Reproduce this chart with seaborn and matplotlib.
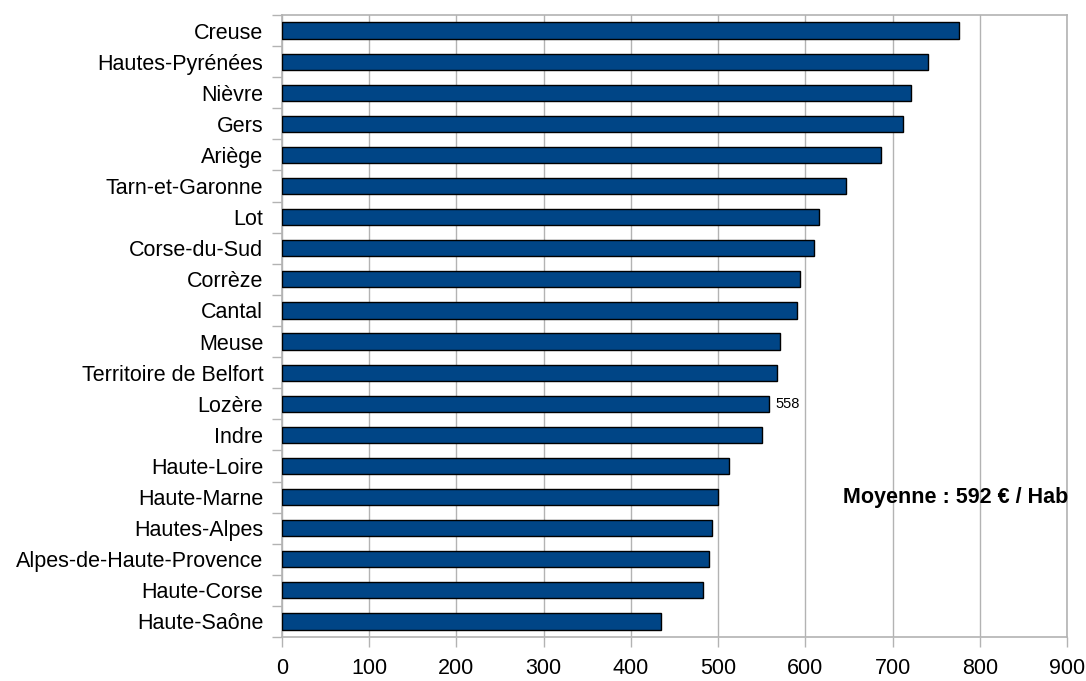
import matplotlib
matplotlib.use("Agg")
import matplotlib.pyplot as plt
import seaborn as sns
import pandas as pd

departements = ["Creuse", "Hautes-Pyrénées", "Nièvre", "Gers", "Ariège",
                "Tarn-et-Garonne", "Lot", "Corse-du-Sud", "Corrèze", "Cantal",
                "Meuse", "Territoire de Belfort", "Lozère", "Indre", "Haute-Loire",
                "Haute-Marne", "Hautes-Alpes", "Alpes-de-Haute-Provence",
                "Haute-Corse", "Haute-Saône"]
valeurs = [776, 741, 721, 712, 687, 647, 616, 610, 594, 591,
           571, 567, 558, 550, 512, 500, 493, 489, 483, 435]
x_ticks = [0, 100, 200, 300, 400, 500, 600, 700, 800, 900]
moyenne = 592

df = pd.DataFrame({"dep": departements, "val": valeurs})

sns.set_style("white")
plt.rcParams["font.family"] = ["Liberation Sans", "DejaVu Sans"]
plt.rcParams["text.color"] = "black"
plt.rcParams["xtick.labelcolor"] = "black"
plt.rcParams["ytick.labelcolor"] = "black"

fig = plt.figure(figsize=(10.86, 6.81), dpi=100)
ax = fig.add_axes([0.2597, 0.0646, 0.7228, 0.9134])

sns.barplot(data=df, x="val", y="dep", orient="h", color="#004586",
            saturation=1, width=0.52, edgecolor="black", linewidth=1, ax=ax, zorder=3)

ax.set_xlim(0, 900)
ax.set_ylim(len(departements) - 0.5, -0.5)
ax.set_xticks(x_ticks)
ax.set_xticklabels([str(t) for t in x_ticks], fontsize=15.5)
ax.tick_params(axis="x", bottom=True, length=7.2, width=1, color="#b3b3b3", pad=8)
ax.tick_params(axis="y", which="major", left=False, length=0, pad=13.5, labelsize=15.5)
ax.set_yticks([i - 0.5 for i in range(len(departements) + 1)], minor=True)
ax.tick_params(axis="y", which="minor", left=True, length=7.2, width=1, color="#b3b3b3")
ax.grid(axis="x", color="#b3b3b3", linewidth=1, zorder=0)
ax.set_axisbelow(True)
for s in ax.spines.values():
    s.set_color("#b3b3b3")
    s.set_linewidth(1.2)
ax.set_xlabel("")
ax.set_ylabel("")

i_loz = departements.index("Lozère")
ax.annotate(str(valeurs[i_loz]), (valeurs[i_loz], i_loz), xytext=(5, 0),
            textcoords="offset points", va="center", ha="left", fontsize=10.5)

fig.text(0.9835, 0.27, "Moyenne : %d € / Hab" % moyenne, ha="right", va="center",
         fontsize=15.5, fontweight="bold")

fig.savefig("out.png", dpi=100)
